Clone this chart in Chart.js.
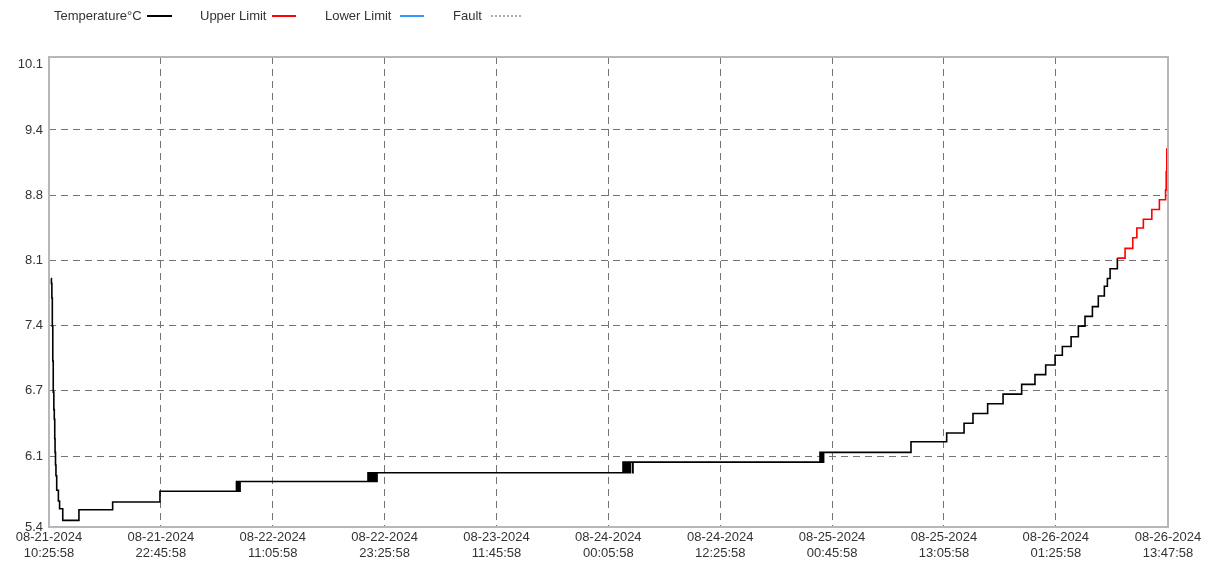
<!DOCTYPE html>
<html>
<head>
<meta charset="utf-8">
<script src="https://cdn.jsdelivr.net/npm/chart.js@4"></script>
<style>
html,body{margin:0;padding:0;background:#fff;}
#wrap{position:relative;width:1220px;height:562px;overflow:hidden;}
#c{position:absolute;left:0;top:0;}
.leg{position:absolute;top:8px;font:13px 'Liberation Sans',Arial,sans-serif;color:#333;white-space:nowrap;line-height:16px;}
.sw{position:absolute;top:15px;height:0;}
</style>
</head>
<body>
<div id="wrap"><canvas id="c" width="1220" height="562"></canvas></div>
<script>
// ---- data ----
const legendNames = ["Temperature°C", "Upper Limit", "Lower Limit", "Fault"];
const legendColors = ["#000000", "#ff0000", "#3399ff", "#aaaaaa"];

const xTickMinutes = [0, 740, 1480, 2220, 2960, 3700, 4440, 5180, 5920, 6660, 7402];
const xTickDates = ["08-21-2024","08-21-2024","08-22-2024","08-22-2024","08-23-2024","08-24-2024","08-24-2024","08-25-2024","08-25-2024","08-26-2024","08-26-2024"];
const xTickTimes = ["10:25:58","22:45:58","11:05:58","23:25:58","11:45:58","00:05:58","12:25:58","00:45:58","13:05:58","01:25:58","13:47:58"];

const yTickLabels = ["5.4","6.1","6.7","7.4","8.1","8.8","9.4","10.1"];
const yLow = 5.4, yHigh = 10.1;

// minutes since 08-21-2024 10:25:58
const timeMin = [13,16,19,22,25,28,32,35,38,40,43,46,51,62,70,91,198,421,734,
  1240,1246,1252,1258,1264,
  2110,2116,2122,2128,2134,2140,2146,2152,2158,2164,2170,
  3797,3803,3809,3815,3821,3827,3833,3839,3845,3860,3863,
  5100,5106,5112,5118,5124,
  5702,5938,6053,6112,6209,6311,6434,6522,6593,6655,6703,6761,6809,6853,6902,6941,6981,7001,7019,
  7067,7118,7169,7196,7239,7295,7345,7386,7390,7394];
const tempC = [7.9,7.85,7.7,7.41,7.05,6.73,6.55,6.45,6.25,6.11,5.98,5.87,5.72,5.61,5.53,5.41,5.52,5.6,5.71,
  5.81,5.71,5.81,5.71,5.81,
  5.9,5.81,5.9,5.81,5.9,5.81,5.9,5.81,5.9,5.81,5.9,
  6.01,5.9,6.01,5.9,6.01,5.9,6.01,5.9,6.01,5.9,6.01,
  6.11,6.01,6.11,6.01,6.11,
  6.22,6.31,6.41,6.51,6.61,6.71,6.81,6.91,7.01,7.11,7.2,7.3,7.41,7.51,7.61,7.72,7.82,7.9,8.0,
  8.11,8.21,8.32,8.42,8.51,8.61,8.71,8.81,9.0,9.24];
const upperLimit = 8.1;

// ---- legend (HTML text) ----
const legendTextX = [54, 200, 325, 453];
const legendSwatch = [[147,25],[272,24],[400,24],[491,30]];
const wrap = document.getElementById('wrap');
legendNames.forEach((n, i) => {
  const t = document.createElement('div');
  t.className = 'leg'; t.textContent = n; t.style.left = legendTextX[i] + 'px';
  wrap.appendChild(t);
  const s = document.createElement('div');
  s.className = 'sw';
  s.style.left = legendSwatch[i][0] + 'px';
  s.style.width = legendSwatch[i][1] + 'px';
  s.style.borderTop = (i === 3 ? '2px dotted ' : '2px solid ') + legendColors[i];
  wrap.appendChild(s);
});

// ---- chart ----
const pts = timeMin.map((t, i) => ({x: t, y: tempC[i]}));
const yMin = 5.342, yMax = 10.18;
const yTickPos = yTickLabels.map((_, k) => k === 0 ? yMin : yLow + k * (yHigh - yLow) / (yTickLabels.length - 1));

const framePlugin = {
  id: 'frame',
  afterDraw(chart) {
    const a = chart.chartArea, ctx = chart.ctx;
    ctx.save();
    ctx.strokeStyle = '#b4b8bd';
    ctx.lineWidth = 2;
    ctx.strokeRect(a.left, a.top, a.right - a.left, a.bottom - a.top);
    ctx.restore();
  }
};

const gridColor = (ctx, n) => (ctx.index === 0 || ctx.index === n - 1) ? 'rgba(0,0,0,0)' : '#747474';
const font = {family: "'Liberation Sans', Arial, sans-serif", size: 13};

new Chart(document.getElementById('c'), {
  type: 'line',
  data: {
    datasets: [{
      label: legendNames[0],
      data: pts,
      borderColor: legendColors[0],
      borderWidth: 1.6,
      pointRadius: 0,
      stepped: 'before',
      fill: false,
      segment: {
        borderColor: ctx => ctx.p0.parsed.y >= upperLimit ? legendColors[1] : legendColors[0]
      }
    }]
  },
  options: {
    responsive: false,
    animation: false,
    events: [],
    layout: {padding: {top: 57, right: 52, left: 0, bottom: 0}},
    plugins: {legend: {display: false}, tooltip: {enabled: false}},
    scales: {
      x: {
        type: 'linear',
        min: 0, max: 7402,
        afterFit: s => { s.height = 35; },
        afterBuildTicks: s => { s.ticks = xTickMinutes.map(v => ({value: v})); },
        grid: {color: ctx => gridColor(ctx, xTickMinutes.length), lineWidth: 1, drawTicks: false},
        border: {display: false, dash: [7, 5]},
        ticks: {
          autoSkip: false, maxRotation: 0, padding: 3, color: '#333', font: font,
          callback: (v, i) => [xTickDates[i], xTickTimes[i]]
        }
      },
      y: {
        type: 'linear',
        min: yMin, max: yMax,
        afterFit: s => { s.width = 49; },
        afterBuildTicks: s => { s.ticks = yTickPos.map(v => ({value: v})); },
        grid: {color: ctx => gridColor(ctx, yTickPos.length), lineWidth: 1, drawTicks: false},
        border: {display: false, dash: [7, 5]},
        ticks: {
          autoSkip: false, padding: 6, color: '#333', font: font,
          callback: (v, i) => yTickLabels[i]
        }
      }
    }
  },
  plugins: [framePlugin]
});
</script>
</body>
</html>
